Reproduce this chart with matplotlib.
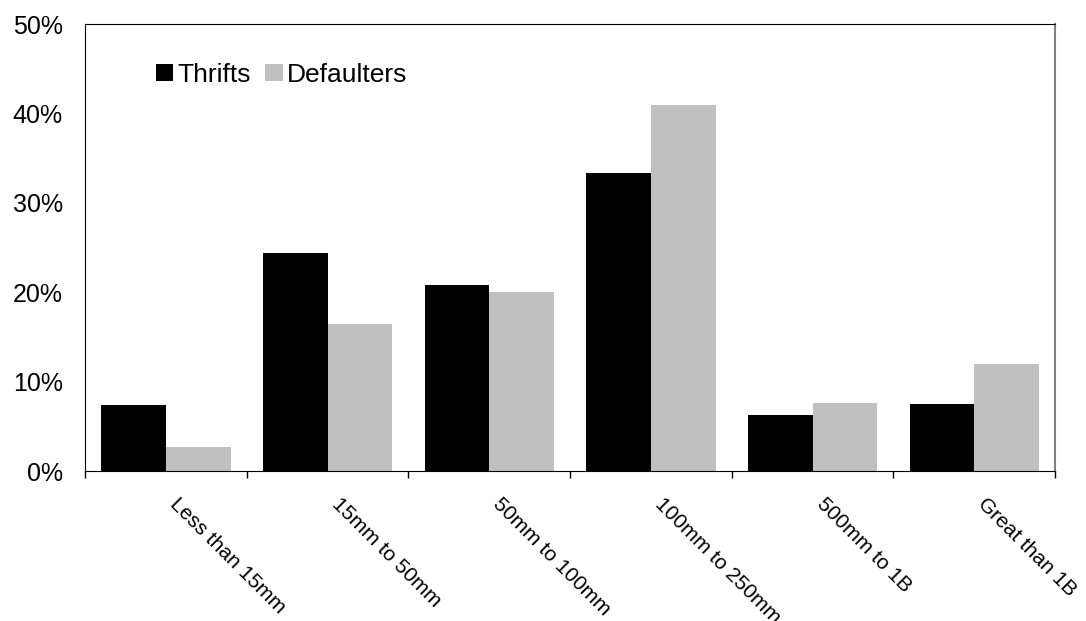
import numpy as np
import matplotlib.pyplot as plt
import matplotlib.transforms as mtransforms
from matplotlib.ticker import FixedLocator

plt.rcParams['font.family'] = ['Liberation Sans', 'DejaVu Sans']

categories = ['Less than 15mm', '15mm to 50mm', '50mm to 100mm',
              '100mm to 250mm', '500mm to 1B', 'Great than 1B']
thrifts = [7.4, 24.4, 20.8, 33.4, 6.3, 7.5]
defaulters = [2.7, 16.5, 20.0, 41.0, 7.6, 12.0]
y_ticks = [0, 10, 20, 30, 40, 50]

fig = plt.figure(figsize=(10.86, 6.21), dpi=100)
ax = fig.add_axes([0.0783, 0.2415, 0.8932, 0.7195])

x = np.arange(len(categories))
w = 0.4
ax.bar(x - w / 2, thrifts, w, color='black', label='Thrifts')
ax.bar(x + w / 2, defaulters, w, color='#c0c0c0', label='Defaulters')

ax.set_xlim(-0.5, len(categories) - 0.5)
ax.set_ylim(0, 50)
ax.set_yticks(y_ticks)
ax.set_yticklabels([f'{v}%' for v in y_ticks], fontsize=18)
ax.tick_params(axis='y', length=0, pad=16)

# ticks sit between the groups, labels at the group centres
ax.xaxis.set_major_locator(FixedLocator(np.arange(-0.5, len(categories), 1)))
ax.xaxis.set_minor_locator(FixedLocator(x))
ax.tick_params(axis='x', which='major', length=5, width=1, labelbottom=False)
ax.tick_params(axis='x', which='minor', length=0, pad=17)
labels = ax.set_xticklabels(categories, minor=True, fontsize=15, rotation=-45,
                            ha='left', va='top', rotation_mode='anchor')
shift = mtransforms.ScaledTranslation(10 / 72, 0, fig.dpi_scale_trans)
for lab in labels:
    lab.set_transform(lab.get_transform() + shift)

for side in ['left', 'bottom', 'top']:
    ax.spines[side].set_color('black')
ax.spines['right'].set_color('#808080')
ax.spines['right'].set_linewidth(1.5)

ax.legend(loc='center left', bbox_to_anchor=(0.073, 0.8865), ncol=2, frameon=False,
          fontsize=19, handlelength=0.65, handleheight=0.65, handletextpad=0.15,
          columnspacing=0.57, borderaxespad=0, borderpad=0)

fig.savefig('out.png', dpi=100)
